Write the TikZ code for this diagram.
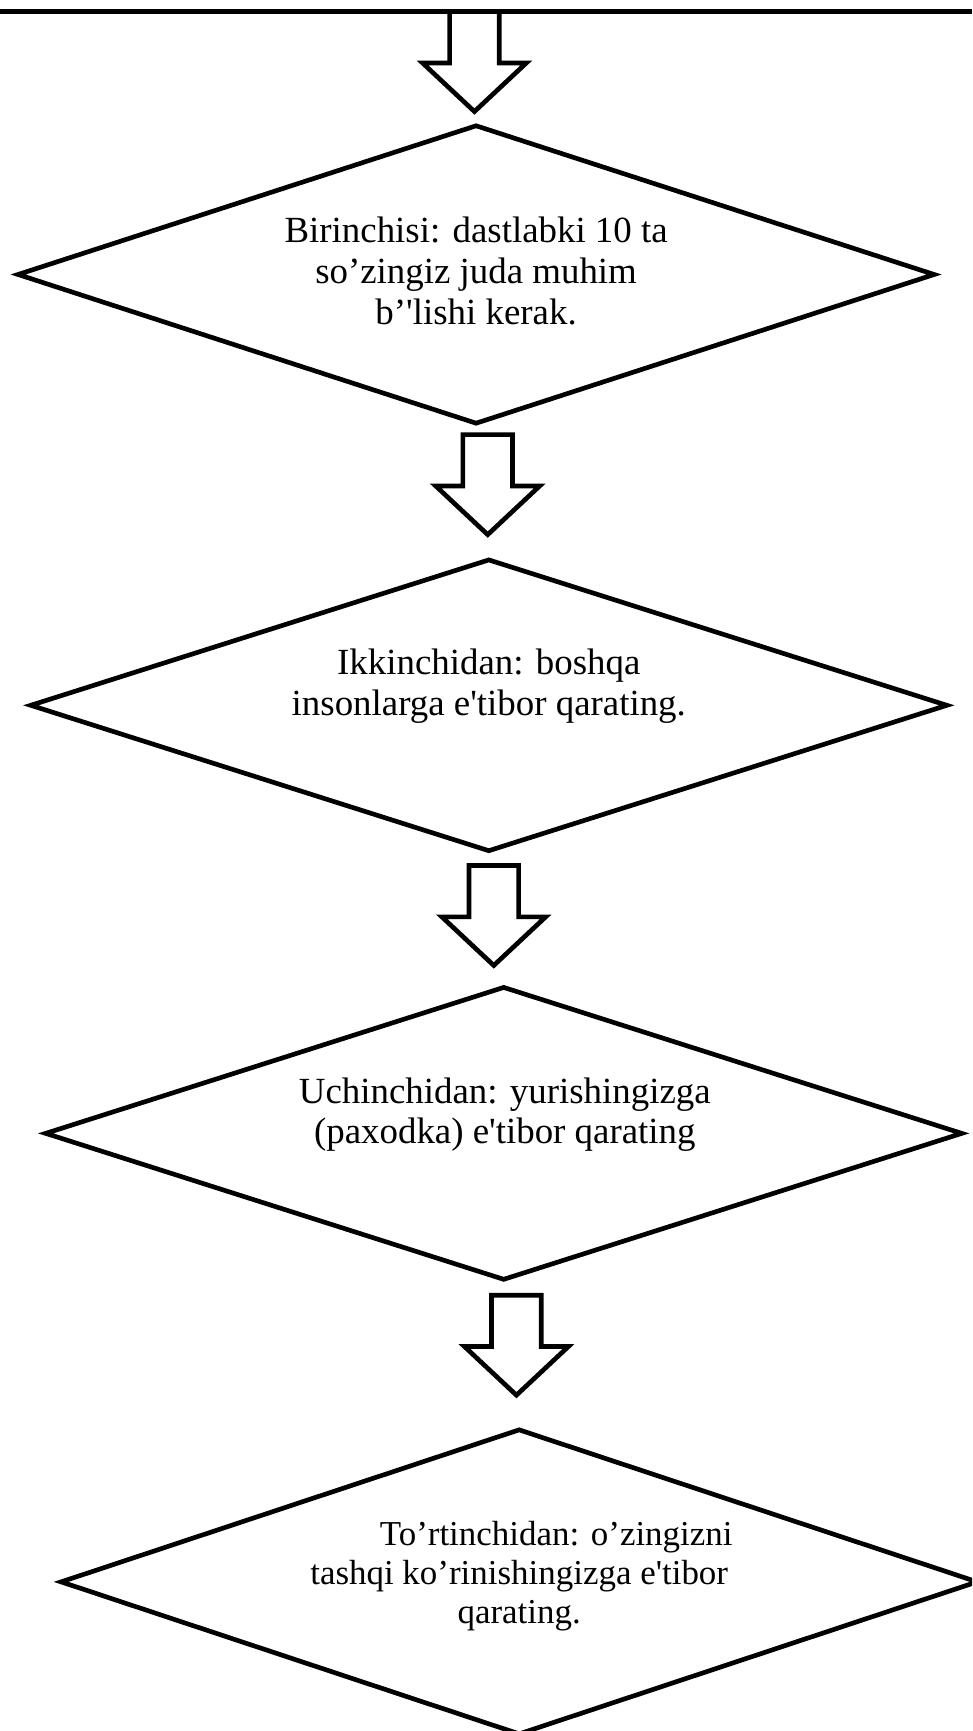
\documentclass[tikz,border=0pt]{standalone}
\usepackage{fontspec}
\setmainfont{Liberation Serif}[Ligatures=TeXOff]
\usetikzlibrary{shapes.geometric,calc}
\newcommand{\blockarrow}[2]{%
  \draw[arrowline] let \p1=(#1), \p2=(#2) in
    (\x2-0.45cm,\y1) -- (\x2-0.45cm,\y2+0.88cm) -- (\x2-0.94cm,\y2+0.88cm) -- (\x2,\y2)
    -- (\x2+0.94cm,\y2+0.88cm) -- (\x2+0.45cm,\y2+0.88cm) -- (\x2+0.45cm,\y1) -- cycle;}
\begin{document}
\begin{tikzpicture}[rhomb/.style={draw, diamond, line width=2.4pt, inner sep=0pt,
    minimum width=16.62cm, minimum height=5.32cm},
  txt/.style={align=center, inner sep=0pt, font=\fontsize{19}{21}\selectfont},
  arrowline/.style={line width=2.4pt},
  topline/.style={line width=2.7pt}]
    \clip (0,0) rectangle (17.6,31.34);
    \coordinate (l) at (0,31.13);
    \coordinate (r) at (17.6,31.13);
    \draw[topline] (l) -- (r);
    \node[rhomb, minimum height=5.42cm] (d1) at (8.62,26.37) {};
    \node[rhomb, minimum height=5.30cm] (d2) at (8.85,18.57) {};
    \node[rhomb] (d3) at (9.12,10.82) {};
    \node[rhomb, minimum height=5.54cm] (d4) at (9.40,2.70) {};
    \node[txt] (t1) at (8.62,26.43) {Birinchisi: dastlabki 10 ta\\ so’zingiz juda muhim\\ b’'lishi kerak.};
    \node[txt] (t2) at (8.85,18.91) {Ikkinchidan: boshqa\\ insonlarga e'tibor qarating.};
    \node[txt] (t3) at (9.14,11.16) {Uchinchidan: yurishingizga\\ (paxodka) e'tibor qarating};
    \node[txt, font=\fontsize{18}{20}\selectfont] (t4) at (9.40,2.80) {\hspace*{1.34cm}To’rtinchidan: o’zingizni\\ tashqi ko’rinishingizga e'tibor\\ qarating.};
    \coordinate (a1s) at (8.59,31.13);
    \coordinate (a1e) at (8.59,29.32);
    \coordinate (a2s) at (8.83,23.47);
    \coordinate (a2e) at (8.83,21.66);
    \coordinate (a3s) at (8.94,15.67);
    \coordinate (a3e) at (8.94,13.86);
    \coordinate (a4s) at (9.35,7.89);
    \coordinate (a4e) at (9.35,6.08);
    \blockarrow{a1s}{a1e}
    \blockarrow{a2s}{a2e}
    \blockarrow{a3s}{a3e}
    \blockarrow{a4s}{a4e}
\end{tikzpicture}
\end{document}
